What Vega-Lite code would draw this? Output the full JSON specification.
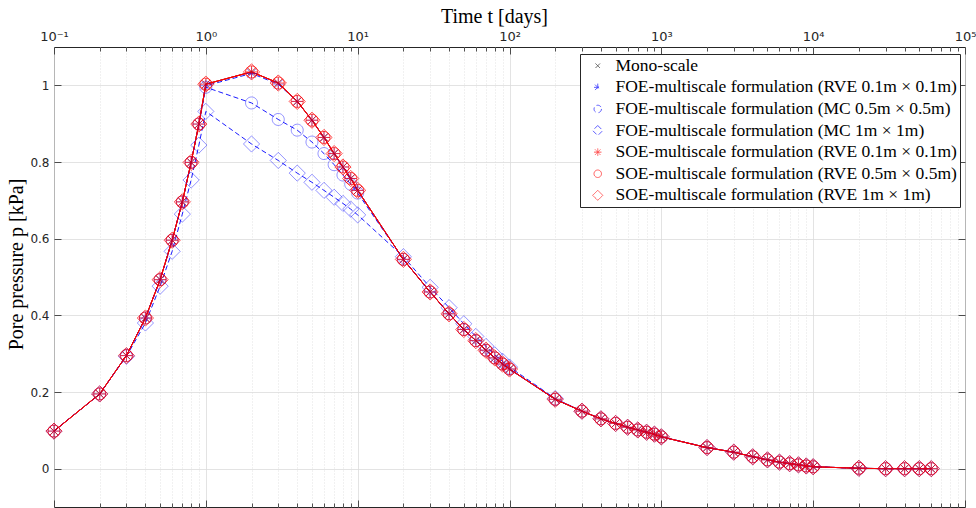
{
"$schema": "https://vega.github.io/schema/vega-lite/v6.json",
"width": 911, "height": 460,
"autosize": {"type": "none"},
"padding": {"left": 54, "top": 47, "right": 11, "bottom": 1},
"background": "white",
"config": {
  "view": {"stroke": "#262626", "strokeWidth": 1},
  "axis": {"labelFont": "DejaVu Sans", "labelFontSize": 12, "labelColor": "#262626", "titleFont": "Liberation Serif", "titleFontSize": 20, "titleFontWeight": "normal", "titleColor": "#000000", "domain": false, "tickColor": "#262626", "tickWidth": 0.8, "gridColor": "#dcdcdc", "gridWidth": 0.8}
},
"datasets": {"d": [
{"s":"a","t":0.1,"p":0.098},{"s":"a","t":0.2,"p":0.195},{"s":"a","t":0.3,"p":0.295},{"s":"a","t":0.4,"p":0.393},{"s":"a","t":0.5,"p":0.493},{"s":"a","t":0.6,"p":0.596},{"s":"a","t":0.7,"p":0.696},{"s":"a","t":0.8,"p":0.799},{"s":"a","t":0.9,"p":0.899},{"s":"a","t":1,"p":1.003},{"s":"a","t":2,"p":1.035},{"s":"a","t":3,"p":1.006},{"s":"a","t":4,"p":0.958},{"s":"a","t":5,"p":0.909},{"s":"a","t":6,"p":0.864},{"s":"a","t":7,"p":0.822},{"s":"a","t":8,"p":0.787},{"s":"a","t":9,"p":0.757},{"s":"a","t":10,"p":0.726},{"s":"a","t":20,"p":0.546},{"s":"a","t":30,"p":0.461},{"s":"a","t":40,"p":0.404},{"s":"a","t":50,"p":0.363},{"s":"a","t":60,"p":0.334},{"s":"a","t":70,"p":0.309},{"s":"a","t":80,"p":0.289},{"s":"a","t":90,"p":0.273},{"s":"a","t":100,"p":0.26},{"s":"a","t":200,"p":0.181},{"s":"a","t":300,"p":0.15},{"s":"a","t":400,"p":0.13},{"s":"a","t":500,"p":0.118},{"s":"a","t":600,"p":0.108},{"s":"a","t":700,"p":0.101},{"s":"a","t":800,"p":0.095},{"s":"a","t":900,"p":0.09},{"s":"a","t":1000,"p":0.083},{"s":"a","t":2000,"p":0.055},{"s":"a","t":3000,"p":0.043},{"s":"a","t":4000,"p":0.031},{"s":"a","t":5000,"p":0.023},{"s":"a","t":6000,"p":0.017},{"s":"a","t":7000,"p":0.013},{"s":"a","t":8000,"p":0.01},{"s":"a","t":9000,"p":0.007},{"s":"a","t":10000,"p":0.005},{"s":"a","t":20000,"p":0.001},{"s":"a","t":30000,"p":0},{"s":"a","t":40000,"p":0},{"s":"a","t":50000,"p":0},{"s":"a","t":60000,"p":0},
{"s":"b","t":0.1,"p":0.098},{"s":"b","t":0.2,"p":0.195},{"s":"b","t":0.3,"p":0.295},{"s":"b","t":0.4,"p":0.393},{"s":"b","t":0.5,"p":0.493},{"s":"b","t":0.6,"p":0.596},{"s":"b","t":0.7,"p":0.696},{"s":"b","t":0.8,"p":0.799},{"s":"b","t":0.9,"p":0.899},{"s":"b","t":1,"p":0.999},{"s":"b","t":2,"p":1.031},{"s":"b","t":3,"p":1.003},{"s":"b","t":4,"p":0.958},{"s":"b","t":5,"p":0.909},{"s":"b","t":6,"p":0.864},{"s":"b","t":7,"p":0.822},{"s":"b","t":8,"p":0.787},{"s":"b","t":9,"p":0.757},{"s":"b","t":10,"p":0.726},{"s":"b","t":20,"p":0.546},{"s":"b","t":30,"p":0.461},{"s":"b","t":40,"p":0.404},{"s":"b","t":50,"p":0.363},{"s":"b","t":60,"p":0.334},{"s":"b","t":70,"p":0.309},{"s":"b","t":80,"p":0.289},{"s":"b","t":90,"p":0.273},{"s":"b","t":100,"p":0.26},{"s":"b","t":200,"p":0.181},{"s":"b","t":300,"p":0.15},{"s":"b","t":400,"p":0.13},{"s":"b","t":500,"p":0.118},{"s":"b","t":600,"p":0.108},{"s":"b","t":700,"p":0.101},{"s":"b","t":800,"p":0.095},{"s":"b","t":900,"p":0.09},{"s":"b","t":1000,"p":0.083},{"s":"b","t":2000,"p":0.055},{"s":"b","t":3000,"p":0.043},{"s":"b","t":4000,"p":0.031},{"s":"b","t":5000,"p":0.023},{"s":"b","t":6000,"p":0.017},{"s":"b","t":7000,"p":0.013},{"s":"b","t":8000,"p":0.01},{"s":"b","t":9000,"p":0.007},{"s":"b","t":10000,"p":0.005},{"s":"b","t":20000,"p":0.001},{"s":"b","t":30000,"p":0},{"s":"b","t":40000,"p":0},{"s":"b","t":50000,"p":0},{"s":"b","t":60000,"p":0},
{"s":"c","t":0.1,"p":0.098},{"s":"c","t":0.2,"p":0.195},{"s":"c","t":0.3,"p":0.295},{"s":"c","t":0.4,"p":0.393},{"s":"c","t":0.5,"p":0.493},{"s":"c","t":0.6,"p":0.596},{"s":"c","t":0.7,"p":0.696},{"s":"c","t":0.8,"p":0.799},{"s":"c","t":0.9,"p":0.899},{"s":"c","t":1,"p":0.995},{"s":"c","t":2,"p":0.954},{"s":"c","t":3,"p":0.911},{"s":"c","t":4,"p":0.883},{"s":"c","t":5,"p":0.852},{"s":"c","t":6,"p":0.822},{"s":"c","t":7,"p":0.793},{"s":"c","t":8,"p":0.766},{"s":"c","t":9,"p":0.742},{"s":"c","t":10,"p":0.719},{"s":"c","t":20,"p":0.546},{"s":"c","t":30,"p":0.461},{"s":"c","t":40,"p":0.404},{"s":"c","t":50,"p":0.363},{"s":"c","t":60,"p":0.334},{"s":"c","t":70,"p":0.309},{"s":"c","t":80,"p":0.289},{"s":"c","t":90,"p":0.273},{"s":"c","t":100,"p":0.26},{"s":"c","t":200,"p":0.181},{"s":"c","t":300,"p":0.15},{"s":"c","t":400,"p":0.13},{"s":"c","t":500,"p":0.118},{"s":"c","t":600,"p":0.108},{"s":"c","t":700,"p":0.101},{"s":"c","t":800,"p":0.095},{"s":"c","t":900,"p":0.09},{"s":"c","t":1000,"p":0.083},{"s":"c","t":2000,"p":0.055},{"s":"c","t":3000,"p":0.043},{"s":"c","t":4000,"p":0.031},{"s":"c","t":5000,"p":0.023},{"s":"c","t":6000,"p":0.017},{"s":"c","t":7000,"p":0.013},{"s":"c","t":8000,"p":0.01},{"s":"c","t":9000,"p":0.007},{"s":"c","t":10000,"p":0.005},{"s":"c","t":20000,"p":0.001},{"s":"c","t":30000,"p":0},{"s":"c","t":40000,"p":0},{"s":"c","t":50000,"p":0},{"s":"c","t":60000,"p":0},
{"s":"d","t":0.1,"p":0.098},{"s":"d","t":0.2,"p":0.195},{"s":"d","t":0.3,"p":0.293},{"s":"d","t":0.4,"p":0.38},{"s":"d","t":0.5,"p":0.476},{"s":"d","t":0.6,"p":0.567},{"s":"d","t":0.7,"p":0.664},{"s":"d","t":0.8,"p":0.753},{"s":"d","t":0.9,"p":0.844},{"s":"d","t":1,"p":0.932},{"s":"d","t":2,"p":0.847},{"s":"d","t":3,"p":0.804},{"s":"d","t":4,"p":0.771},{"s":"d","t":5,"p":0.747},{"s":"d","t":6,"p":0.726},{"s":"d","t":7,"p":0.708},{"s":"d","t":8,"p":0.692},{"s":"d","t":9,"p":0.677},{"s":"d","t":10,"p":0.662},{"s":"d","t":20,"p":0.553},{"s":"d","t":30,"p":0.473},{"s":"d","t":40,"p":0.42},{"s":"d","t":50,"p":0.378},{"s":"d","t":60,"p":0.345},{"s":"d","t":70,"p":0.319},{"s":"d","t":80,"p":0.297},{"s":"d","t":90,"p":0.28},{"s":"d","t":100,"p":0.265},{"s":"d","t":200,"p":0.183},{"s":"d","t":300,"p":0.15},{"s":"d","t":400,"p":0.13},{"s":"d","t":500,"p":0.118},{"s":"d","t":600,"p":0.108},{"s":"d","t":700,"p":0.101},{"s":"d","t":800,"p":0.095},{"s":"d","t":900,"p":0.09},{"s":"d","t":1000,"p":0.083},{"s":"d","t":2000,"p":0.055},{"s":"d","t":3000,"p":0.043},{"s":"d","t":4000,"p":0.031},{"s":"d","t":5000,"p":0.023},{"s":"d","t":6000,"p":0.017},{"s":"d","t":7000,"p":0.013},{"s":"d","t":8000,"p":0.01},{"s":"d","t":9000,"p":0.007},{"s":"d","t":10000,"p":0.005},{"s":"d","t":20000,"p":0.001},{"s":"d","t":30000,"p":0},{"s":"d","t":40000,"p":0},{"s":"d","t":50000,"p":0},{"s":"d","t":60000,"p":0},
{"s":"e","t":0.1,"p":0.098},{"s":"e","t":0.2,"p":0.195},{"s":"e","t":0.3,"p":0.295},{"s":"e","t":0.4,"p":0.393},{"s":"e","t":0.5,"p":0.493},{"s":"e","t":0.6,"p":0.596},{"s":"e","t":0.7,"p":0.696},{"s":"e","t":0.8,"p":0.799},{"s":"e","t":0.9,"p":0.899},{"s":"e","t":1,"p":1.003},{"s":"e","t":2,"p":1.035},{"s":"e","t":3,"p":1.006},{"s":"e","t":4,"p":0.958},{"s":"e","t":5,"p":0.909},{"s":"e","t":6,"p":0.864},{"s":"e","t":7,"p":0.822},{"s":"e","t":8,"p":0.787},{"s":"e","t":9,"p":0.757},{"s":"e","t":10,"p":0.726},{"s":"e","t":20,"p":0.546},{"s":"e","t":30,"p":0.461},{"s":"e","t":40,"p":0.404},{"s":"e","t":50,"p":0.363},{"s":"e","t":60,"p":0.334},{"s":"e","t":70,"p":0.309},{"s":"e","t":80,"p":0.289},{"s":"e","t":90,"p":0.273},{"s":"e","t":100,"p":0.26},{"s":"e","t":200,"p":0.181},{"s":"e","t":300,"p":0.15},{"s":"e","t":400,"p":0.13},{"s":"e","t":500,"p":0.118},{"s":"e","t":600,"p":0.108},{"s":"e","t":700,"p":0.101},{"s":"e","t":800,"p":0.095},{"s":"e","t":900,"p":0.09},{"s":"e","t":1000,"p":0.083},{"s":"e","t":2000,"p":0.055},{"s":"e","t":3000,"p":0.043},{"s":"e","t":4000,"p":0.031},{"s":"e","t":5000,"p":0.023},{"s":"e","t":6000,"p":0.017},{"s":"e","t":7000,"p":0.013},{"s":"e","t":8000,"p":0.01},{"s":"e","t":9000,"p":0.007},{"s":"e","t":10000,"p":0.005},{"s":"e","t":20000,"p":0.001},{"s":"e","t":30000,"p":0},{"s":"e","t":40000,"p":0},{"s":"e","t":50000,"p":0},{"s":"e","t":60000,"p":0},
{"s":"f","t":0.1,"p":0.098},{"s":"f","t":0.2,"p":0.195},{"s":"f","t":0.3,"p":0.295},{"s":"f","t":0.4,"p":0.393},{"s":"f","t":0.5,"p":0.493},{"s":"f","t":0.6,"p":0.596},{"s":"f","t":0.7,"p":0.696},{"s":"f","t":0.8,"p":0.799},{"s":"f","t":0.9,"p":0.899},{"s":"f","t":1,"p":1.003},{"s":"f","t":2,"p":1.035},{"s":"f","t":3,"p":1.006},{"s":"f","t":4,"p":0.958},{"s":"f","t":5,"p":0.909},{"s":"f","t":6,"p":0.864},{"s":"f","t":7,"p":0.822},{"s":"f","t":8,"p":0.787},{"s":"f","t":9,"p":0.757},{"s":"f","t":10,"p":0.726},{"s":"f","t":20,"p":0.546},{"s":"f","t":30,"p":0.461},{"s":"f","t":40,"p":0.404},{"s":"f","t":50,"p":0.363},{"s":"f","t":60,"p":0.334},{"s":"f","t":70,"p":0.309},{"s":"f","t":80,"p":0.289},{"s":"f","t":90,"p":0.273},{"s":"f","t":100,"p":0.26},{"s":"f","t":200,"p":0.181},{"s":"f","t":300,"p":0.15},{"s":"f","t":400,"p":0.13},{"s":"f","t":500,"p":0.118},{"s":"f","t":600,"p":0.108},{"s":"f","t":700,"p":0.101},{"s":"f","t":800,"p":0.095},{"s":"f","t":900,"p":0.09},{"s":"f","t":1000,"p":0.083},{"s":"f","t":2000,"p":0.055},{"s":"f","t":3000,"p":0.043},{"s":"f","t":4000,"p":0.031},{"s":"f","t":5000,"p":0.023},{"s":"f","t":6000,"p":0.017},{"s":"f","t":7000,"p":0.013},{"s":"f","t":8000,"p":0.01},{"s":"f","t":9000,"p":0.007},{"s":"f","t":10000,"p":0.005},{"s":"f","t":20000,"p":0.001},{"s":"f","t":30000,"p":0},{"s":"f","t":40000,"p":0},{"s":"f","t":50000,"p":0},{"s":"f","t":60000,"p":0},
{"s":"g","t":0.1,"p":0.098},{"s":"g","t":0.2,"p":0.195},{"s":"g","t":0.3,"p":0.295},{"s":"g","t":0.4,"p":0.393},{"s":"g","t":0.5,"p":0.493},{"s":"g","t":0.6,"p":0.596},{"s":"g","t":0.7,"p":0.696},{"s":"g","t":0.8,"p":0.799},{"s":"g","t":0.9,"p":0.899},{"s":"g","t":1,"p":1.003},{"s":"g","t":2,"p":1.035},{"s":"g","t":3,"p":1.006},{"s":"g","t":4,"p":0.958},{"s":"g","t":5,"p":0.909},{"s":"g","t":6,"p":0.864},{"s":"g","t":7,"p":0.822},{"s":"g","t":8,"p":0.787},{"s":"g","t":9,"p":0.757},{"s":"g","t":10,"p":0.726},{"s":"g","t":20,"p":0.546},{"s":"g","t":30,"p":0.461},{"s":"g","t":40,"p":0.404},{"s":"g","t":50,"p":0.363},{"s":"g","t":60,"p":0.334},{"s":"g","t":70,"p":0.309},{"s":"g","t":80,"p":0.289},{"s":"g","t":90,"p":0.273},{"s":"g","t":100,"p":0.26},{"s":"g","t":200,"p":0.181},{"s":"g","t":300,"p":0.15},{"s":"g","t":400,"p":0.13},{"s":"g","t":500,"p":0.118},{"s":"g","t":600,"p":0.108},{"s":"g","t":700,"p":0.101},{"s":"g","t":800,"p":0.095},{"s":"g","t":900,"p":0.09},{"s":"g","t":1000,"p":0.083},{"s":"g","t":2000,"p":0.055},{"s":"g","t":3000,"p":0.043},{"s":"g","t":4000,"p":0.031},{"s":"g","t":5000,"p":0.023},{"s":"g","t":6000,"p":0.017},{"s":"g","t":7000,"p":0.013},{"s":"g","t":8000,"p":0.01},{"s":"g","t":9000,"p":0.007},{"s":"g","t":10000,"p":0.005},{"s":"g","t":20000,"p":0.001},{"s":"g","t":30000,"p":0},{"s":"g","t":40000,"p":0},{"s":"g","t":50000,"p":0},{"s":"g","t":60000,"p":0}
]},
"data": {"name": "d"},
"layer": [
  {
    "mark": {"type": "line", "strokeWidth": 0.9},
    "encoding": {
      "x": {"field": "t", "type": "quantitative", "scale": {"type": "log", "domain": [0.1, 100000], "nice": false},
        "axis": {"orient": "top", "title": "Time t [days]", "titlePadding": 1, "titleX": 440,
          "values": [0.1,0.2,0.3,0.4,0.5,0.6,0.7,0.8,0.9,1,2,3,4,5,6,7,8,9,10,20,30,40,50,60,70,80,90,100,200,300,400,500,600,700,800,900,1000,2000,3000,4000,5000,6000,7000,8000,9000,10000,20000,30000,40000,50000,60000,70000,80000,90000,100000],
          "labelExpr": "abs(log(datum.value)/LN10 - round(log(datum.value)/LN10)) < 0.001 ? '10' + ['⁻¹','⁰','¹','²','³','⁴','⁵'][round(log(datum.value)/LN10)+1] : ''",
          "labelFlush": false, "labelOverlap": false, "labelPadding": 11, "labelFontSize": 13,
          "grid": true,
          "gridDash": {"condition": {"test": "abs(log(datum.value)/LN10 - round(log(datum.value)/LN10)) < 0.001", "value": []}, "value": [1, 2]},
          "tickSize": {"condition": {"test": "abs(log(datum.value)/LN10 - round(log(datum.value)/LN10)) < 0.001", "value": -7}, "value": -4}
        }},
      "y": {"field": "p", "type": "quantitative", "scale": {"domain": [-0.1, 1.1], "nice": false, "zero": false},
        "axis": {"orient": "left", "title": "Pore pressure p [kPa]", "titlePadding": 3, "titleY": 217, "values": [0, 0.2, 0.4, 0.6, 0.8, 1], "format": "~g", "grid": true, "tickSize": -7, "labelPadding": 12}},
      "color": {"field": "s", "type": "nominal",
        "scale": {"domain": ["a","b","c","d","e","f","g"], "range": ["#000000","#0000ff","#0000ff","#0000ff","#ff0000","#ff0000","#ff0000"]}},
      "strokeDash": {"field": "s", "type": "nominal", "scale": {"domain": ["a","b","c","d","e","f","g"], "range": [[1,0],[5,3],[5,3],[5,3],[1,0],[1,0],[1,0]]}, "legend": null},
      "order": {"field": "t", "type": "quantitative"}
    }
  },
  {
    "transform": [{"filter": "indexof(['a','b','c','d'], datum.s) >= 0"}],
    "mark": {"type": "point", "filled": false, "size": 144, "strokeWidth": 0.6},
    "encoding": {
      "x": {"field": "t", "type": "quantitative",
        "axis": {"orient": "bottom", "title": null, "labels": false, "grid": false,
          "values": [0.1,0.2,0.3,0.4,0.5,0.6,0.7,0.8,0.9,1,2,3,4,5,6,7,8,9,10,20,30,40,50,60,70,80,90,100,200,300,400,500,600,700,800,900,1000,2000,3000,4000,5000,6000,7000,8000,9000,10000,20000,30000,40000,50000,60000,70000,80000,90000,100000],
          "tickSize": {"condition": {"test": "abs(log(datum.value)/LN10 - round(log(datum.value)/LN10)) < 0.001", "value": -7}, "value": -4}}},
      "y": {"field": "p", "type": "quantitative",
        "axis": {"orient": "right", "title": null, "labels": false, "grid": false, "values": [0, 0.2, 0.4, 0.6, 0.8, 1], "tickSize": -7}},
      "color": {"field": "s", "type": "nominal",
        "legend": {"title": null, "orient": "none", "legendX": 526, "legendY": 7,
          "fillColor": "white", "strokeColor": "#262626", "padding": 3, "cornerRadius": 0,
          "labelFont": "Liberation Serif", "labelFontSize": 17.5, "labelColor": "#000000", "labelLimit": 500,
          "labelExpr": "datum.value == 'a' ? 'Mono-scale' : datum.value == 'b' ? 'FOE-multiscale formulation (RVE 0.1m × 0.1m)' : datum.value == 'c' ? 'FOE-multiscale formulation (MC 0.5m × 0.5m)' : datum.value == 'd' ? 'FOE-multiscale formulation (MC 1m × 1m)' : datum.value == 'e' ? 'SOE-multiscale formulation (RVE 0.1m × 0.1m)' : datum.value == 'f' ? 'SOE-multiscale formulation (RVE 0.5m × 0.5m)' : 'SOE-multiscale formulation (RVE 1m × 1m)'",
          "symbolSize": 56, "symbolStrokeWidth": 0.9, "symbolDash": [1, 0], "symbolOffset": 6, "labelOffset": 9, "rowPadding": 2.6
        }},
      "shape": {"field": "s", "type": "nominal",
        "scale": {"domain": ["a","b","c","d","e","f","g"], "range": [
          "M-0.6,-0.6L0.6,0.6M-0.6,0.6L0.6,-0.6",
          "M-1,0L1,0M0,-1L0,1M-0.72,-0.72L0.72,0.72M-0.72,0.72L0.72,-0.72",
          "M1,0A1,1,0,1,1,-1,0A1,1,0,1,1,1,0Z",
          "M0,-1.35L1.35,0L0,1.35L-1.35,0Z",
          "M-1,0L1,0M0,-1L0,1M-0.72,-0.72L0.72,0.72M-0.72,0.72L0.72,-0.72",
          "M1,0A1,1,0,1,1,-1,0A1,1,0,1,1,1,0Z",
          "M0,-1.35L1.35,0L0,1.35L-1.35,0Z"]}}
    }
  },
  {
    "transform": [{"filter": "indexof(['e','f','g'], datum.s) >= 0"}],
    "mark": {"type": "point", "filled": false, "size": 144, "strokeWidth": 1},
    "encoding": {
      "x": {"field": "t", "type": "quantitative", "axis": null},
      "y": {"field": "p", "type": "quantitative", "axis": null},
      "color": {"field": "s", "type": "nominal"},
      "shape": {"field": "s", "type": "nominal"}
    }
  }
],
"resolve": {"axis": {"x": "independent", "y": "independent"}}
}
